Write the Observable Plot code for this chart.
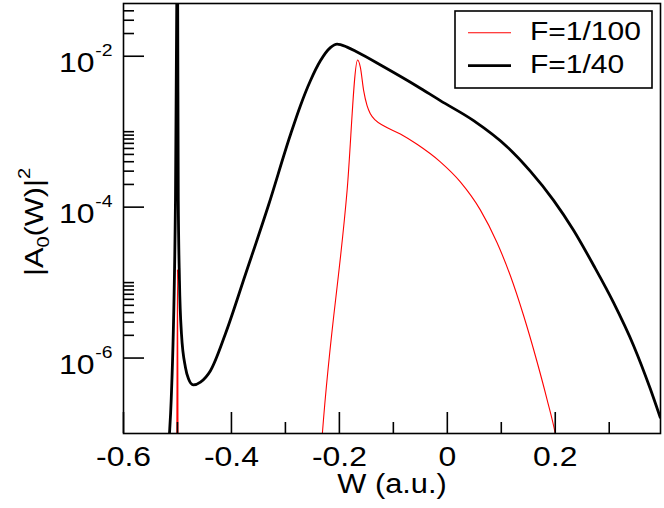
<!DOCTYPE html>
<html><head><meta charset="utf-8">
<script src="https://cdn.jsdelivr.net/npm/d3@7"></script>
<script src="https://cdn.jsdelivr.net/npm/@observablehq/plot@0.6"></script>
<style>html,body{margin:0;padding:0;background:#fff;} svg{display:block}</style>
</head><body><div id="chart"></div>
<script>
// F = 1/40 (black)
const blackW = [-0.5204,-0.5148,-0.5117,-0.5037,-0.5013,-0.5005,-0.4996,-0.4985,-0.4963,-0.4926,-0.4852,-0.4796,-0.4709,-0.4574,-0.4389,-0.4111,-0.3741,-0.3315,-0.2907,-0.2722,-0.2537,-0.2352,-0.2167,-0.2043,-0.1857,-0.1672,-0.1180,-0.0561,-0.0130,0.0487,0.1106,0.1537,0.1969,0.2339,0.2709,0.3080,0.3450,0.3759,0.3944];
const blackA = [3.2e-8,1e-7,2.7e-7,1.22e-4,0.054,1,0.054,1.22e-4,1.06e-5,2.1e-6,7.5e-7,5.3e-7,4.4e-7,4.8e-7,6.8e-7,2.1e-6,1.28e-5,1.05e-4,9.1e-4,2.21e-3,4.73e-3,8.7e-3,1.30e-2,1.45e-2,1.32e-2,1.14e-2,7.26e-3,4.01e-3,2.58e-3,1.40e-3,6.32e-4,3.0e-4,1.23e-4,4.94e-5,1.70e-5,5.43e-6,1.47e-6,3.94e-7,1.64e-7];
// F = 1/100 (red)
const redW = [-0.5015,-0.5,-0.4985,-0.2352,-0.2315,-0.1857,-0.1661,-0.1611,-0.1550,-0.1487,-0.1426,-0.1333,-0.1180,-0.0870,-0.0561,-0.0130,0.0241,0.0611,0.0920,0.1167,0.1413,0.1661,0.1846,0.2000,0.2056];
const redA = [1e-8,1.5e-5,1e-8,4.4e-8,1e-7,1.66e-4,8.9e-3,7.1e-3,3.5e-3,2.21e-3,1.73e-3,1.42e-3,1.2e-3,9.3e-4,6.8e-4,3.98e-4,2.16e-4,9.2e-5,3.4e-5,1.24e-5,3.66e-6,9.0e-7,2.86e-7,1e-7,6e-8];

const xMajor = [-0.6,-0.4,-0.2,0,0.2];
const xMinor = [-0.5,-0.3,-0.1,0.1,0.3];
const yMajor = [1e-6,1e-4,1e-2];
const yMinor = [2e-6,3e-6,4e-6,5e-6,6e-6,7e-6,8e-6,9e-6,1e-5,
                2e-4,3e-4,4e-4,5e-4,6e-4,7e-4,8e-4,9e-4,1e-3,
                2e-2,3e-2,4e-2];
const seriesNames = ["F=1/100","F=1/40"];
const seriesColors = ["#ff0000","#000000"];
const seriesWidths = [1.1, 2.8];

const red = redW.map((w,i)=>({w, a: redA[i]}));
const black = blackW.map((w,i)=>({w, a: blackA[i]}));

const FONT = "'Liberation Sans', Arial, Helvetica, sans-serif";
const W=664, H=508, mL=123, mR=4, mT=3, mB=75;
const fw = W-mL-mR, fh = H-mT-mB;

const chart = Plot.plot({
  width: W, height: H, marginLeft: mL, marginRight: mR, marginTop: mT, marginBottom: mB,
  style: {fontFamily: FONT, background: "#fff", color: "#000"},
  x: {domain: [-0.6, 0.395], axis: null},
  y: {type: "log", domain: [1e-7, 0.05], axis: null},
  marks: [
    Plot.line(red, {x:"w", y:"a", stroke: seriesColors[0], strokeWidth: seriesWidths[0], curve:"monotone-x", clip:true}),
    Plot.line(black, {x:"w", y:"a", stroke: seriesColors[1], strokeWidth: seriesWidths[1], curve:"monotone-x", clip:true}),
    Plot.ruleX(xMajor, {x:d=>d, insetTop: fh-21, stroke:"#000", strokeWidth:1.6}),
    Plot.ruleX(xMinor, {x:d=>d, insetTop: fh-11, stroke:"#000", strokeWidth:1.6}),
    Plot.ruleY(yMajor, {y:d=>d, insetRight: fw-21, stroke:"#000", strokeWidth:1.6}),
    Plot.ruleY(yMinor, {y:d=>d, insetRight: fw-11, stroke:"#000", strokeWidth:1.6}),
    Plot.frame({stroke:"#000", strokeWidth:1.6}),
    Plot.text(xMajor, {x:d=>d, text:d=>String(d), frameAnchor:"bottom", lineAnchor:"top", dy:13, fontSize:28, fill:"#000"}),
    Plot.text(yMajor, {y:d=>d, text:()=>"10", frameAnchor:"left", textAnchor:"end", dx:-29, dy:7, fontSize:28, fill:"#000"}),
    Plot.text(yMajor, {y:d=>d, text:d=>String(Math.round(Math.log10(d))), frameAnchor:"left", textAnchor:"end", dx:-11, dy:-6, fontSize:17, fill:"#000"}),
    Plot.text(["W (a.u.)"], {text:d=>d, frameAnchor:"bottom", dy:59, fontSize:27, fill:"#000"})
  ]
});
document.getElementById("chart").appendChild(chart);

const svg = d3.select(chart);
// y-axis title with subscript / superscript
const yt = svg.append("text").attr("class","ytitle")
  .attr("transform","translate(43,222) rotate(-90)")
  .attr("text-anchor","middle").attr("font-size",26).attr("fill","#000").attr("font-family",FONT);
yt.append("tspan").text("|A");
yt.append("tspan").attr("font-size",17).attr("dy",6).text("0");
yt.append("tspan").attr("dy",-6).text("(W)|");
yt.append("tspan").attr("font-size",17).attr("dy",-13).text("2");

// legend
const lg = svg.append("g").attr("class","legend");
lg.append("rect").attr("x",455).attr("y",11).attr("width",197).attr("height",77)
  .attr("fill","#fff").attr("stroke","#000").attr("stroke-width",1.6);
seriesNames.forEach((n,i)=>{
  const yy = 32.7 + i*33;
  lg.append("line").attr("x1",468).attr("x2",511).attr("y1",yy).attr("y2",yy)
    .attr("stroke",seriesColors[i]).attr("stroke-width",seriesWidths[i]);
  lg.append("text").attr("class","lgtext").attr("x",530).attr("y",yy+6.8).attr("font-size",25)
    .attr("text-anchor","start").attr("fill","#000").attr("font-family",FONT).text(n);
});

// widen glyphs to match the reference's broader lettering
chart.querySelectorAll("text").forEach(t=>{
  const L = t.getComputedTextLength();
  if (L > 0) {
    const f = t.classList.contains("lgtext") ? 1.2 : t.classList.contains("ytitle") ? 1.18 : 1.14;
    t.setAttribute("textLength", (L*f).toFixed(2));
    t.setAttribute("lengthAdjust","spacingAndGlyphs");
  }
});
</script>
</body></html>
